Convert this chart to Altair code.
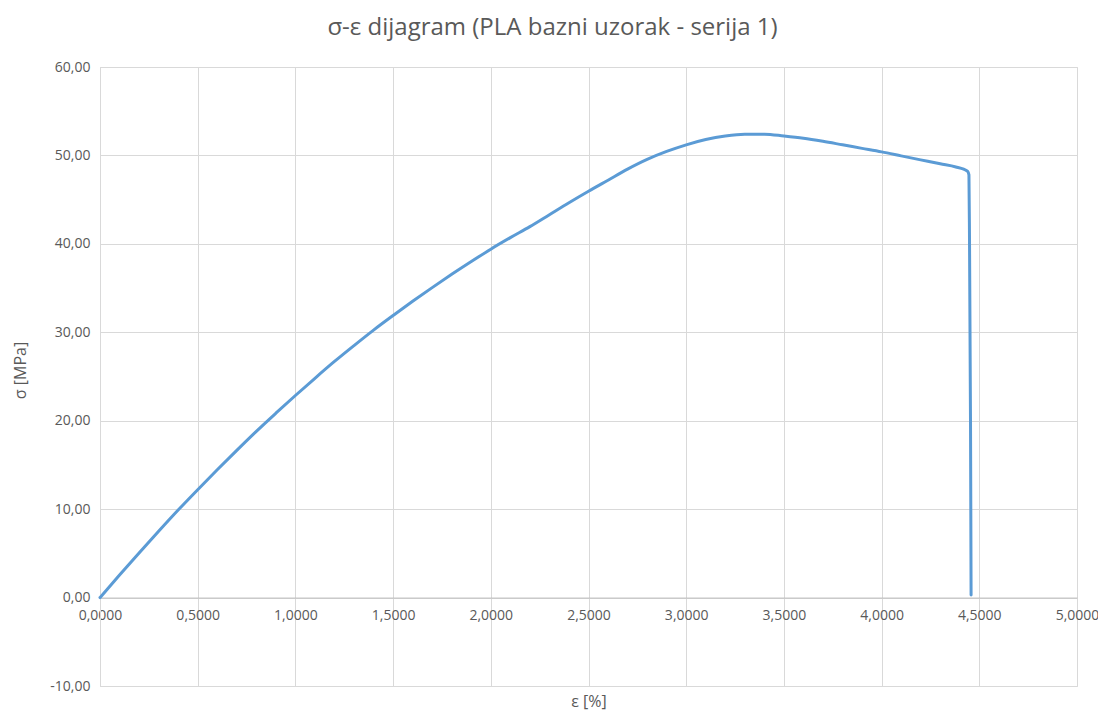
import altair as alt
import pandas as pd

strain = [0.0, 0.1, 0.2, 0.3, 0.4, 0.5, 0.6, 0.7, 0.8, 0.9, 1.0, 1.1, 1.2, 1.3, 1.4, 1.5, 1.6, 1.7,
          1.8, 1.9, 2.0, 2.1, 2.2, 2.3, 2.4, 2.5, 2.6, 2.7, 2.8, 2.9, 3.0, 3.1, 3.2, 3.3, 3.4, 3.5,
          3.6, 3.7, 3.8, 3.9, 4.0, 4.1, 4.2, 4.3, 4.38, 4.42, 4.44, 4.447, 4.45, 4.455, 4.458]
stress = [0.0, 2.55, 5.05, 7.5, 9.9, 12.2, 14.45, 16.65, 18.8, 20.85, 22.85, 24.8, 26.7, 28.5, 30.25,
          31.9, 33.5, 35.05, 36.55, 38.0, 39.4, 40.7, 41.95, 43.3, 44.65, 45.95, 47.2, 48.45, 49.55,
          50.45, 51.2, 51.8, 52.2, 52.4, 52.4, 52.2, 51.95, 51.6, 51.2, 50.8, 50.4, 49.95, 49.5,
          49.05, 48.7, 48.45, 48.2, 47.8, 40.0, 20.0, 0.3]

x_ticks = [0.0, 0.5, 1.0, 1.5, 2.0, 2.5, 3.0, 3.5, 4.0, 4.5, 5.0]
y_ticks = [-10, 0, 10, 20, 30, 40, 50, 60]

df = pd.DataFrame({"strain": strain, "stress": stress, "order": list(range(len(strain)))})

W, H = 977, 619
FONT = "Open Sans"
GREY = "#595959"
offset_px = -H * 10 / 70  # x-axis crosses at y = 0

chart = alt.Chart(df).mark_line(color="#5b9bd5", strokeWidth=3, strokeCap="round", strokeJoin="round",
                                interpolate="monotone").encode(
    x=alt.X("strain:Q",
            scale=alt.Scale(domain=[0, 5], nice=False, zero=False),
            axis=alt.Axis(values=x_ticks, title="ε [%]", offset=offset_px,
                          labelExpr="replace(format(datum.value, '.4f'), '.', ',')",
                          tickSize=0, labelPadding=11, labelFlush=False, labelOverlap=False,
                          domainColor="#bfbfbf",
                          gridColor="#d9d9d9", labelColor=GREY, labelFont=FONT, labelFontSize=14,
                          titleColor=GREY, titleFont=FONT, titleFontSize=16, titleFontWeight="normal",
                          titleX=W / 2, titleY=104, titleBaseline="middle", titleAlign="center")),
    y=alt.Y("stress:Q",
            scale=alt.Scale(domain=[-10, 60], nice=False, zero=False),
            axis=alt.Axis(values=y_ticks, title="σ [MPa]",
                          labelExpr="replace(replace(format(datum.value, '.2f'), '.', ','), '−', '-')",
                          tickSize=0, labelPadding=10, labelFlush=False, domainColor="#d9d9d9",
                          gridColor="#d9d9d9", labelColor=GREY, labelFont=FONT, labelFontSize=14,
                          titleColor=GREY, titleFont=FONT, titleFontSize=16, titleFontWeight="normal",
                          titleX=-80, titleY=303, titleAngle=-90,
                          titleBaseline="middle", titleAlign="center")),
    order="order:Q",
).properties(
    width=W, height=H,
    title=alt.TitleParams("σ-ε dijagram (PLA bazni uzorak - serija 1)", font=FONT, fontSize=24,
                          fontWeight="normal", color=GREY, anchor="middle", dx=-36, offset=20),
    autosize=alt.AutoSizeParams(type="none"),
    padding={"left": 92, "top": 59, "right": 21, "bottom": 32},
).configure_view(stroke=None).configure(background="white")

chart.save("out.html", embed_options={"renderer": "svg", "actions": False})
